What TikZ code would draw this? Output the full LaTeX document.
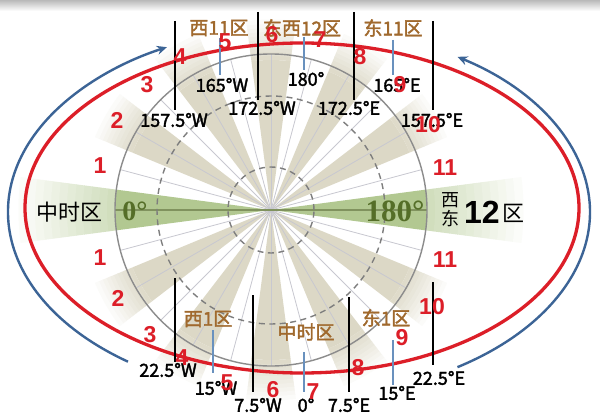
\documentclass[tikz,border=0pt]{standalone}
\usepackage{fontspec}
\setmainfont{Liberation Sans}
\newfontfamily\cjk{Noto Sans CJK SC}
\newfontfamily\cjkm[FakeBold=2]{Noto Sans CJK SC}
\newfontfamily\numf{Liberation Sans}
\newfontfamily\serifb{Liberation Serif}
\usetikzlibrary{arrows.meta}
\definecolor{redc}{RGB}{220,30,40}
\definecolor{bluec}{RGB}{60,100,150}
\definecolor{bluel}{RGB}{105,145,190}
\definecolor{brownc}{RGB}{160,105,45}
\definecolor{beigec}{RGB}{220,216,198}
\definecolor{greenc}{RGB}{178,200,145}
\definecolor{greend}{RGB}{85,110,40}
\definecolor{grayc}{RGB}{140,140,140}
\definecolor{spokec}{RGB}{200,200,208}
\newcommand\annsec[4]{%
  \fill[#4] (#1-7.5:#2) arc[start angle=#1-7.5, end angle=#1+7.5, radius=#2]
    -- (#1+7.5:#3) arc[start angle=#1+7.5, end angle=#1-7.5, radius=#3] -- cycle;}
\tikzset{
  deg/.style={font=\cjkm\fontsize{18}{18}\selectfont, text=black, inner sep=0pt},
  zone/.style={font=\cjkm\fontsize{19}{19}\selectfont, text=brownc, inner sep=0pt},
  num/.style={font=\numf\bfseries\fontsize{23}{23}\selectfont, text=redc, inner sep=0pt},
  merid/.style={black, line width=2.4pt},
  cmerid/.style={bluel, line width=2.4pt},
  turn/.style={bluec, line width=2.4pt, -{Stealth[length=10pt,width=9pt]}},
}
\begin{document}
\begin{tikzpicture}[x=1pt,y=1pt]
\useasboundingbox (0,0) rectangle (600,416);
\fill[white] (0,0) rectangle (600,416);
\shade[top color=gray!55, bottom color=white] (0,405) rectangle (600,416);

% polar fan
\begin{scope}[shift={(271,206)}]
  \coordinate (C) at (0,0);
  \foreach \a in {30,60,90,120,150,210,240,270,300,330} {
    \fill[beigec] (0,0) -- (\a-7.5:150) arc[start angle=\a-7.5, end angle=\a+7.5, radius=150] -- cycle;
    \foreach \i in {0,...,9} {
      \pgfmathsetmacro\ri{150+4*\i}
      \pgfmathsetmacro\ro{154.5+4*\i}
      \pgfmathsetmacro\pc{92-9*\i}
      \annsec{\a}{\ri}{\ro}{beigec!\pc!white}
    }
  }
  \foreach \a in {0,180} {
    \fill[greenc] (0,0) -- (\a-7.5:156) arc[start angle=\a-7.5, end angle=\a+7.5, radius=156] -- cycle;
    \foreach \i in {0,...,11} {
      \pgfmathsetmacro\ri{156+8*\i}
      \pgfmathsetmacro\ro{164.5+8*\i}
      \pgfmathsetmacro\pc{60-5*\i}
      \annsec{\a}{\ri}{\ro}{greenc!\pc!white}
    }
  }
  \foreach \a in {15,30,...,165,195,210,...,345}
    {\draw[spokec, line width=0.8pt] (0,0) -- (\a:156);}
  \draw[greend!75, line width=1.2pt] (-156,0) -- (156,0);
  \draw[grayc!90!black, line width=1.4pt, dash pattern=on 6pt off 4.5pt] (0,0) circle[radius=114];
  \draw[grayc!90!black, line width=1.4pt, dash pattern=on 6pt off 4.5pt] (0,0) circle[radius=43];
  \draw[grayc, line width=1.4pt] (0,0) circle[radius=156];
\end{scope}

% red ellipse and blue arrows
\draw[redc, line width=3.3pt] (302,208) ellipse[x radius=277, y radius=165];
\coordinate (E) at (299,204);
\draw[turn] ([shift={(234:291 and 185)}]E) arc[start angle=234, end angle=117, x radius=291, y radius=185];
\draw[turn] ([shift={(-57:291 and 185)}]E) arc[start angle=-57, end angle=57, x radius=291, y radius=185];

% boundary meridians (black)
\coordinate (t1a) at (175,395); \coordinate (t1b) at (175,306);
\coordinate (t2a) at (258,404); \coordinate (t2b) at (258,316);
\coordinate (t3a) at (354,404); \coordinate (t3b) at (354,316);
\coordinate (t4a) at (433,395); \coordinate (t4b) at (433,306);
\coordinate (b1a) at (175,138); \coordinate (b1b) at (175,54);
\coordinate (b2a) at (253,121); \coordinate (b2b) at (253,24);
\coordinate (b3a) at (349,119); \coordinate (b3b) at (349,24);
\coordinate (b4a) at (433,134); \coordinate (b4b) at (433,51);
\foreach \p in {t1,t2,t3,t4,b1,b2,b3,b4} {\draw[merid] (\p a) -- (\p b);}

% central meridians (blue)
\coordinate (c1a) at (220,378); \coordinate (c1b) at (220,341);
\coordinate (c2a) at (304,379); \coordinate (c2b) at (304,346);
\coordinate (c3a) at (393,376); \coordinate (c3b) at (393,341);
\coordinate (d1a) at (213,86);  \coordinate (d1b) at (213,43);
\coordinate (d2a) at (304,64);  \coordinate (d2b) at (304,24);
\coordinate (d3a) at (393,76);  \coordinate (d3b) at (393,31);
\foreach \p in {c1,c2,c3,d1,d2,d3} {\draw[cmerid] (\p a) -- (\p b);}

% degree labels
\node[deg] (l1) at (174,296) {157.5°W};
\node[deg] (l2) at (262,308) {172.5°W};
\node[deg] (l3) at (349,308) {172.5°E};
\node[deg] (l4) at (432,296) {157.5°E};
\node[deg] (l5) at (222,331) {165°W};
\node[deg] (l6) at (306,337) {180°};
\node[deg] (l7) at (397,331) {165°E};
\node[deg] (l8) at (168,46) {22.5°W};
\node[deg] (l9) at (258,11) {7.5°W};
\node[deg] (l10) at (349,11) {7.5°E};
\node[deg] (l11) at (439,38) {22.5°E};
\node[deg] (l12) at (216,28) {15°W};
\node[deg] (l13) at (306,11) {0°};
\node[deg] (l14) at (397,23) {15°E};

% zone labels
\node[zone] (z1) at (219,388) {西11区};
\node[zone] (z2) at (302,388) {东西12区};
\node[zone] (z3) at (393,388) {东11区};
\node[zone] (z4) at (208,97) {西1区};
\node[zone] (z5) at (306,84) {中时区};
\node[zone] (z6) at (386,98) {东1区};

% big side labels
\node[inner sep=0pt, font=\cjk\fontsize{22}{22}\selectfont] (zl) at (69,204) {中时区};
\node[inner sep=0pt, font=\serifb\bfseries\fontsize{28}{28}\selectfont, text=greend] (d0) at (135,205) {0°};
\node[inner sep=0pt, font=\serifb\bfseries\fontsize{31}{31}\selectfont, text=greend] (d180) at (395,205) {180°};
\node[inner sep=0pt, font=\cjk\fontsize{18}{18}\selectfont] (xi) at (450,216) {西};
\node[inner sep=0pt, font=\cjk\fontsize{18}{18}\selectfont] (do) at (450,197) {东};
\node[inner sep=0pt, font=\numf\bfseries\fontsize{32}{32}\selectfont] (n12) at (482,204) {12};
\node[inner sep=0pt, font=\cjk\fontsize{22}{22}\selectfont] (qu) at (513,203) {区};

% red zone numbers
\node[num] (u1) at (100,250) {1};   \node[num] (v1) at (100,158) {1};
\node[num] (u2) at (117,296) {2};   \node[num] (v2) at (118,118) {2};
\node[num] (u3) at (147,331) {3};   \node[num] (v3) at (150,81) {3};
\node[num] (u4) at (180,359) {4};   \node[num] (v4) at (182,58) {4};
\node[num] (u5) at (225,374) {5};   \node[num] (v5) at (227,33) {5};
\node[num] (u6) at (272,381) {6};   \node[num] (v6) at (273,26) {6};
\node[num] (u7) at (320,376) {7};   \node[num] (v7) at (313,24) {7};
\node[num] (u8) at (360,359) {8};   \node[num] (v8) at (358,48) {8};
\node[num] (u9) at (400,331) {9};   \node[num] (v9) at (402,78) {9};
\node[num] (u10) at (428,291) {10}; \node[num] (v10) at (432,109) {10};
\node[num] (u11) at (445,248) {11}; \node[num] (v11) at (445,156) {11};
\end{tikzpicture}
\end{document}
